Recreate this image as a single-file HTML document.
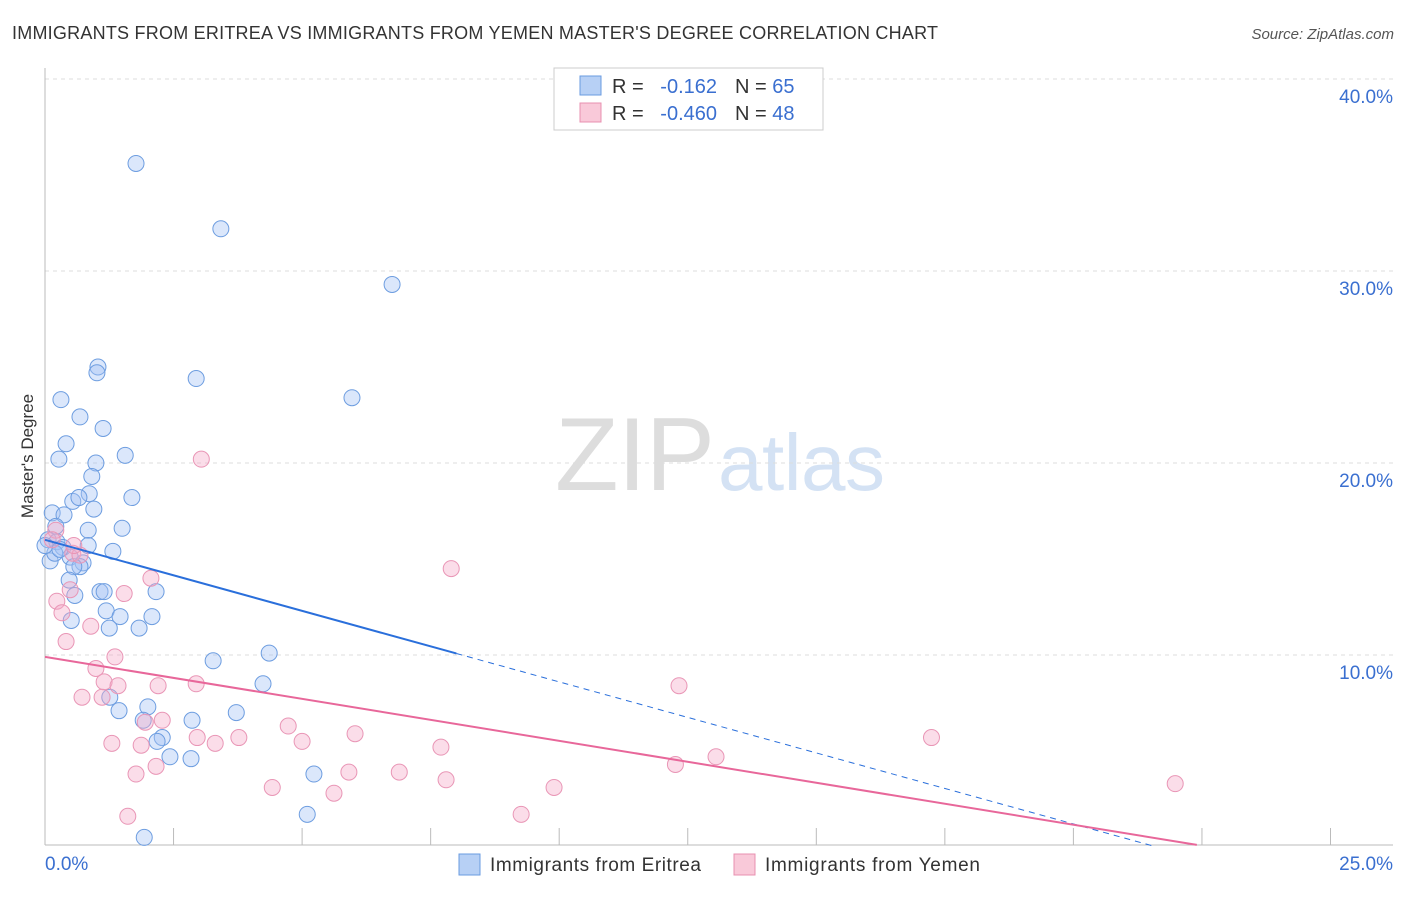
<!DOCTYPE html>
<html><head><meta charset="utf-8">
<style>
body{margin:0;background:#fff;font-family:"Liberation Sans",sans-serif;}
svg text{font-family:"Liberation Sans",sans-serif;}
</style></head>
<body>
<svg id="chart" width="1406" height="892" xmlns="http://www.w3.org/2000/svg">
<text x="12" y="39" font-size="18" fill="#333" textLength="926">IMMIGRANTS FROM ERITREA VS IMMIGRANTS FROM YEMEN MASTER'S DEGREE CORRELATION CHART</text>
<text x="1394" y="39" font-size="15" fill="#555" text-anchor="end" font-style="italic">Source: ZipAtlas.com</text>
<text x="555" y="490" font-size="104" fill="#ddd" textLength="160" font-family="Liberation Serif">ZIP</text>
<text x="718" y="490" font-size="80" fill="#d4e2f4" textLength="167">atlas</text>
<text transform="translate(33,456) rotate(-90)" font-size="17" fill="#333" text-anchor="middle">Master's Degree</text>
<g id="grid"></g><g id="axes"></g><g id="marks"></g>
<g>
<rect x="554" y="68" width="269" height="62" fill="#fff" stroke="#ccc"/>
<rect x="580" y="76" width="21" height="19" fill="#b7d0f5" stroke="#6a9be0"/>
<rect x="580" y="103" width="21" height="19" fill="#f9c9d9" stroke="#e890b0"/>
<text x="612" y="93" font-size="20" fill="#333">R = </text><text x="717" y="93" font-size="20" fill="#3a6fd0" text-anchor="end">-0.162</text>
<text x="735" y="93" font-size="20" fill="#333">N = <tspan fill="#3a6fd0">65</tspan></text>
<text x="612" y="120" font-size="20" fill="#333">R = </text><text x="717" y="120" font-size="20" fill="#3a6fd0" text-anchor="end">-0.460</text>
<text x="735" y="120" font-size="20" fill="#333">N = <tspan fill="#3a6fd0">48</tspan></text>
</g>
<g>
<rect x="459" y="854" width="21" height="21" fill="#b7d0f5" stroke="#6a9be0"/>
<text x="490" y="871" font-size="19" fill="#333" textLength="211">Immigrants from Eritrea</text>
<rect x="734" y="854" width="21" height="21" fill="#f9c9d9" stroke="#e890b0"/>
<text x="765" y="871" font-size="19" fill="#333" textLength="215">Immigrants from Yemen</text>
</g>
</svg>
<script>
const yTicks=[10,20,30,40];
const yTickLabels=["10.0%","20.0%","30.0%","40.0%"];
const xTickVals=[2.5,5,7.5,10,12.5,15,17.5,20,22.5,25];
const blueX=[1.77,3.42,6.75,1.03,1.01,2.94,5.97,0.31,0.68,1.13,0.41,1.56,0.27,0.99,0.91,0.86,1.69,0.54,0.66,0.14,0.37,0.95,1.50,0.84,0.21,0.06,0.23,0.84,1.32,0.35,0.49,0.74,0.68,0.56,0.47,0.58,1.07,1.15,2.16,1.19,1.46,2.08,0.51,1.25,1.83,3.27,4.36,4.24,1.26,1.44,2.00,3.72,2.86,1.91,2.28,2.18,2.43,2.84,5.23,5.10,1.93,0.10,0.19,0.0,0.29];
const blueY=[35.6,32.2,29.3,25.0,24.7,24.4,23.4,23.3,22.4,21.8,21.0,20.4,20.2,20.0,19.3,18.4,18.2,18.0,18.2,17.4,17.3,17.6,16.6,16.5,16.7,16.0,15.9,15.7,15.4,15.6,15.1,14.8,14.6,14.6,13.9,13.1,13.3,13.3,13.3,12.3,12.0,12.0,11.8,11.4,11.4,9.7,10.1,8.5,7.8,7.1,7.3,7.0,6.6,6.6,5.7,5.5,4.7,4.6,3.8,1.7,0.5,14.9,15.3,15.7,15.5];
const pinkX=[3.04,7.90,12.33,17.24,21.98,0.21,0.14,0.54,2.06,0.49,1.54,0.23,0.33,0.89,0.41,1.36,0.99,1.15,1.42,2.20,2.94,0.72,1.11,4.73,1.95,6.03,3.77,2.96,5.00,1.30,1.87,3.31,7.70,13.05,12.26,2.16,5.91,6.89,1.77,7.80,4.42,9.90,5.62,9.26,1.61,2.28,0.68,0.56];
const pinkY=[20.2,14.5,8.4,5.7,3.3,16.5,16.0,15.3,14.0,13.4,13.2,12.8,12.2,11.5,10.7,9.9,9.3,8.6,8.4,8.4,8.5,7.8,7.8,6.3,6.5,5.9,5.7,5.7,5.5,5.4,5.3,5.4,5.2,4.7,4.3,4.2,3.9,3.9,3.8,3.5,3.1,3.1,2.8,1.7,1.6,6.6,15.2,15.7];
const blueTrend=[16.0,-0.74];
const pinkTrend=[9.9,-0.437];
const blueSolidEnd=8.0, blueDashEnd=21.6, pinkEnd=22.4;

const NS="http://www.w3.org/2000/svg";
const X=v=>45+v*51.42, Y=v=>847-v*19.2;
function mk(tag,attrs,parent){const e=document.createElementNS(NS,tag);for(const k in attrs)e.setAttribute(k,attrs[k]);parent.appendChild(e);return e;}
const grid=document.getElementById('grid'),axes=document.getElementById('axes'),marks=document.getElementById('marks');
yTicks.forEach((t,i)=>{
  const l=mk('line',{x1:45,x2:1393,y1:Y(t),y2:Y(t),stroke:'#ddd','stroke-dasharray':'4,4'},grid);
  
  
  const tx=mk('text',{x:1393,y:Y(t)+24,'font-size':19,fill:'#3a6fd0','text-anchor':'end'},axes);
  tx.textContent=yTickLabels[i];
  
  
});
const xa=mk('line',{x1:45,x2:1393,y1:845,y2:845,stroke:'#bbb'},axes);


const ya=mk('line',{x1:45,x2:45,y1:68,y2:845,stroke:'#bbb'},axes);


xTickVals.forEach(v=>{
  const t=mk('line',{x1:X(v),x2:X(v),y1:828,y2:845,stroke:'#bbb'},axes);
  
  
});
const x0=mk('text',{x:45,y:870,'font-size':19,fill:'#3a6fd0'},axes);x0.textContent='0.0%';


const x1=mk('text',{x:1393,y:870,'font-size':19,fill:'#3a6fd0','text-anchor':'end'},axes);x1.textContent='25.0%';


function pts(xs,ys,fill,stroke,name){xs.forEach((x,i)=>{
  const c=mk('circle',{cx:X(x),cy:Y(ys[i]),r:8,fill:fill,stroke:stroke,'stroke-width':1},marks);
  
  
});}
pts(blueX,blueY,'rgba(164,194,244,0.4)','#6d9de0','eritrea-point');
pts(pinkX,pinkY,'rgba(246,170,200,0.4)','#e996b6','yemen-point');
const f=(tr,x)=>tr[0]+tr[1]*x;
const b1=mk('line',{x1:X(0),y1:Y(f(blueTrend,0)),x2:X(blueSolidEnd),y2:Y(f(blueTrend,blueSolidEnd)),stroke:'#2a6fdb','stroke-width':2},marks);


const b2=mk('line',{x1:X(blueSolidEnd),y1:Y(f(blueTrend,blueSolidEnd)),x2:X(blueDashEnd),y2:Y(f(blueTrend,blueDashEnd)),stroke:'#2a6fdb','stroke-width':1,'stroke-dasharray':'6,5'},marks);


const p1=mk('line',{x1:X(0),y1:Y(f(pinkTrend,0)),x2:X(pinkEnd),y2:Y(f(pinkTrend,pinkEnd)),stroke:'#e8679a','stroke-width':2},marks);


</script>
</body></html>
